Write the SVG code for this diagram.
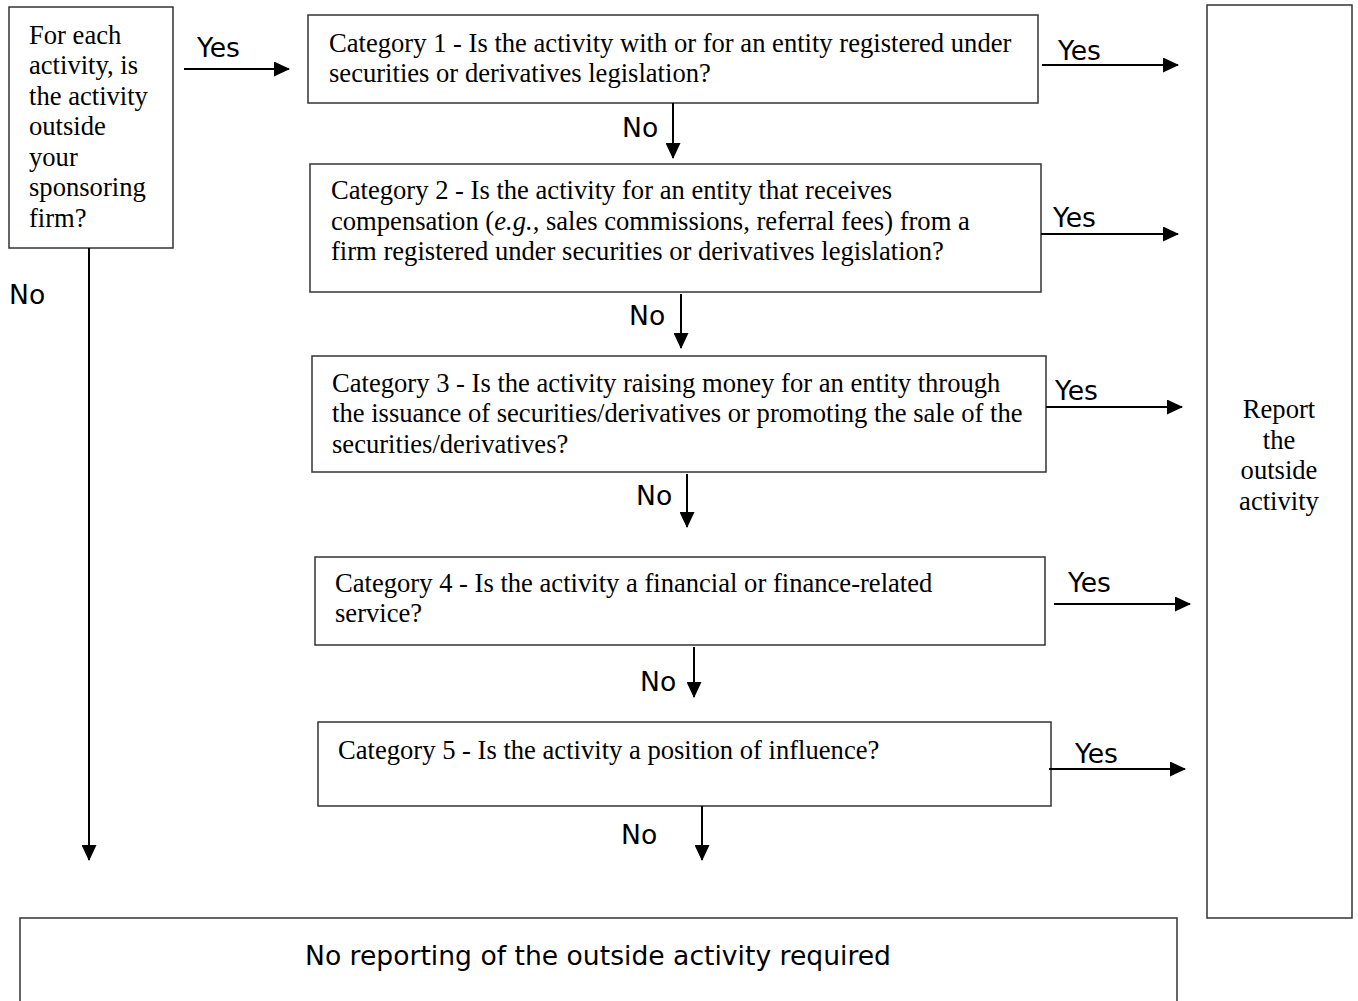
<svg xmlns="http://www.w3.org/2000/svg" width="1358" height="1001" viewBox="0 0 1358 1001">
<style>
.box{fill:#fff;stroke:#333;stroke-width:1.5}
.t{font-family:"Liberation Serif","Times New Roman",serif;font-size:26.6px;fill:#000}
.s{font-family:"DejaVu Sans",Verdana,sans-serif;font-size:26.6px;fill:#000}
.c{stroke:#000;stroke-width:2;fill:none;marker-end:url(#ah)}
</style>
<defs>
<marker id="ah" markerUnits="userSpaceOnUse" markerWidth="16" markerHeight="15" refX="15" refY="7.5" orient="auto">
<path d="M0,0 L16,7.5 L0,15 Z" fill="#000"/>
</marker>
</defs>
<rect width="1358" height="1001" fill="#fff"/>
<g id="start">
<rect class="box" x="9" y="7" width="164" height="241"/>
<text class="t" x="29"><tspan x="29" y="44">For each</tspan><tspan x="29" y="74">activity, is</tspan><tspan x="29" y="105">the activity</tspan><tspan x="29" y="135">outside</tspan><tspan x="29" y="166">your</tspan><tspan x="29" y="196">sponsoring</tspan><tspan x="29" y="227">firm?</tspan></text>
</g>
<g id="cat1">
<rect class="box" x="308" y="15" width="730" height="88"/>
<text class="t"><tspan x="329" y="52">Category 1 - Is the activity with or for an entity registered under</tspan><tspan x="329" y="82">securities or derivatives legislation?</tspan></text>
</g>
<g id="cat2">
<rect class="box" x="310" y="164" width="731" height="128"/>
<text class="t"><tspan x="331" y="199">Category 2 - Is the activity for an entity that receives</tspan><tspan x="331" y="230">compensation (<tspan font-style="italic">e.g.</tspan>, sales commissions, referral fees) from a</tspan><tspan x="331" y="260">firm registered under securities or derivatives legislation?</tspan></text>
</g>
<g id="cat3">
<rect class="box" x="312" y="356" width="734" height="116"/>
<text class="t"><tspan x="332" y="392">Category 3 - Is the activity raising money for an entity through</tspan><tspan x="332" y="422">the issuance of securities/derivatives or promoting the sale of the</tspan><tspan x="332" y="453">securities/derivatives?</tspan></text>
</g>
<g id="cat4">
<rect class="box" x="315" y="557" width="730" height="88"/>
<text class="t"><tspan x="335" y="592">Category 4 - Is the activity a financial or finance-related</tspan><tspan x="335" y="622">service?</tspan></text>
</g>
<g id="cat5">
<rect class="box" x="318" y="722" width="733" height="84"/>
<text class="t" x="338" y="759">Category 5 - Is the activity a position of influence?</text>
</g>
<g id="report">
<rect class="box" x="1207" y="5" width="145" height="913"/>
<text class="t" text-anchor="middle"><tspan x="1279" y="418">Report</tspan><tspan x="1279" y="449">the</tspan><tspan x="1279" y="479">outside</tspan><tspan x="1279" y="510">activity</tspan></text>
</g>
<g id="noreport">
<rect class="box" x="20" y="918" width="1157" height="100"/>
<text class="s" x="598" y="965" text-anchor="middle">No reporting of the outside activity required</text>
</g>
<g id="connectors">
<path class="c" d="M184,69 H289"/>
<text class="s" x="197" y="57">Yes</text>
<path class="c" d="M89,248 V860"/>
<text class="s" x="9" y="304">No</text>
<path class="c" d="M1042,65 H1178"/>
<text class="s" x="1058" y="60">Yes</text>
<path class="c" d="M1041,234 H1178"/>
<text class="s" x="1053" y="227">Yes</text>
<path class="c" d="M1046,407 H1182"/>
<text class="s" x="1055" y="400">Yes</text>
<path class="c" d="M1054,604 H1190"/>
<text class="s" x="1068" y="592">Yes</text>
<path class="c" d="M1049,769 H1185"/>
<text class="s" x="1075" y="763">Yes</text>
<path class="c" d="M673,103 V158"/>
<text class="s" x="622" y="137">No</text>
<path class="c" d="M681,294 V348"/>
<text class="s" x="629" y="325">No</text>
<path class="c" d="M687,474 V527"/>
<text class="s" x="636" y="505">No</text>
<path class="c" d="M694,647 V697"/>
<text class="s" x="640" y="691">No</text>
<path class="c" d="M702,806 V860"/>
<text class="s" x="621" y="844">No</text>
</g>
</svg>
